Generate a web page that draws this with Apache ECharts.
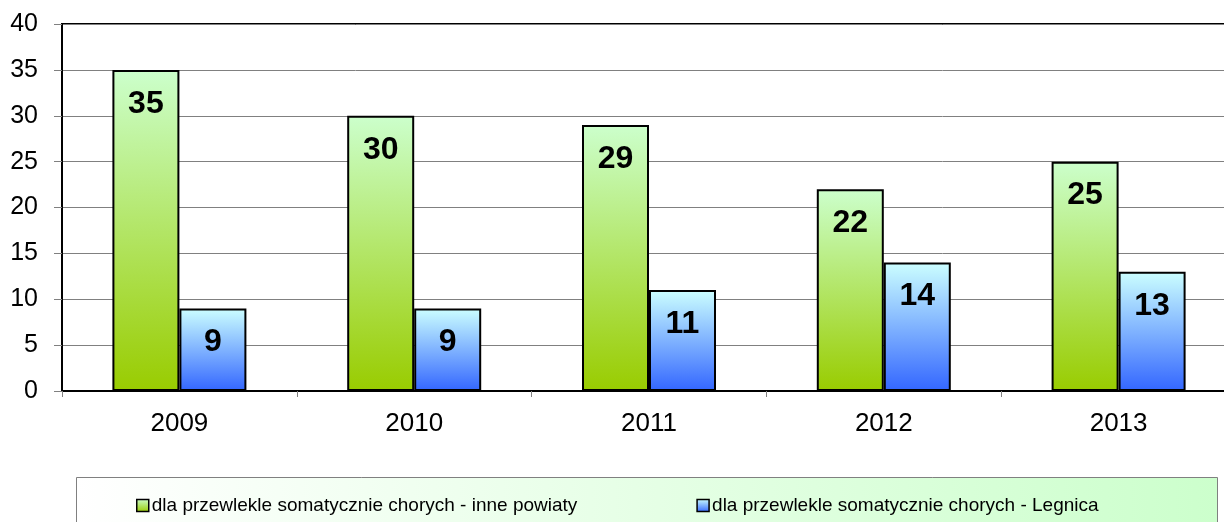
<!DOCTYPE html>
<html>
<head>
<meta charset="utf-8">
<script src="https://cdn.jsdelivr.net/npm/echarts@6/dist/echarts.min.js"></script>
<style>
html, body { margin: 0; padding: 0; background: #fff; overflow: hidden; }
/* wykres szerszy niż okno: prawa krawędź obszaru wykresu ucięta jak w oryginale */
#chart { width: 1236px; height: 522px; }
</style>
</head>
<body>
<div id="chart"></div>
<script>
// dane
var lata = ['2009', '2010', '2011', '2012', '2013'];
var innePowiaty = [35, 30, 29, 22, 25];
var legnica = [9, 9, 11, 14, 13];
var nazwy = ['dla przewlekle somatycznie chorych - inne powiaty', 'dla przewlekle somatycznie chorych - Legnica'];

var chart = echarts.init(document.getElementById('chart'));

var gradZielony = new echarts.graphic.LinearGradient(0, 0, 0, 1, [
	{ offset: 0, color: '#ccffcc' },
	{ offset: 1, color: '#99cc00' }
]);
var gradNiebieski = new echarts.graphic.LinearGradient(0, 0, 0, 1, [
	{ offset: 0, color: '#ccffff' },
	{ offset: 1, color: '#3366ff' }
]);

var etykieta = {
	show: true,
	position: 'insideTop',
	distance: 18,
	color: '#000',
	fontFamily: 'Liberation Sans, Arial, sans-serif',
	fontWeight: 'bold',
	fontSize: 32
};

var option = {
	animation: false,
	textStyle: { fontFamily: 'Liberation Sans, Arial, sans-serif' },
	grid: {
		left: 62,
		top: 24,
		right: 0,
		bottom: 131,
		show: true,
		borderColor: '#000',
		borderWidth: 2
	},
	graphic: [{
		type: 'rect',
		shape: { x: 76.5, y: 477.5, width: 1141, height: 60 },
		style: {
			fill: new echarts.graphic.LinearGradient(0, 0, 1, 0, [
				{ offset: 0, color: '#ffffff' },
				{ offset: 1, color: '#ccffcc' }
			]),
			stroke: '#808080',
			lineWidth: 1
		},
		z: 0
	}],
	legend: {
		data: nazwy,
		left: 131,
		top: 491,
		itemWidth: 12,
		itemHeight: 12,
		itemGap: 119,
		icon: 'rect',
		itemStyle: { borderColor: '#000', borderWidth: 1.5 },
		textStyle: { fontSize: 19, color: '#000', padding: [0, 0, 0, -2] },
		z: 10
	},
	xAxis: {
		type: 'category',
		data: lata,
		axisLine: { lineStyle: { color: '#000', width: 2 } },
		axisTick: { show: true, length: 6, lineStyle: { color: '#808080' } },
		axisLabel: { fontSize: 26, color: '#000', margin: 20 }
	},
	yAxis: {
		type: 'value',
		min: 0,
		max: 40,
		interval: 5,
		axisLine: { show: true, lineStyle: { color: '#000', width: 2 } },
		axisTick: { show: true, length: 8, lineStyle: { color: '#808080' } },
		axisLabel: { fontSize: 25, color: '#000', margin: 24 },
		splitLine: { lineStyle: { color: '#808080', width: 1 } }
	},
	series: [
		{
			name: nazwy[0],
			type: 'bar',
			data: innePowiaty,
			barWidth: 67,
			barGap: '0%',
			itemStyle: { color: gradZielony, borderColor: '#000', borderWidth: 2 },
			label: etykieta
		},
		{
			name: nazwy[1],
			type: 'bar',
			data: legnica,
			barWidth: 67,
			barGap: '0%',
			itemStyle: { color: gradNiebieski, borderColor: '#000', borderWidth: 2 },
			label: etykieta
		}
	]
};

chart.setOption(option);

window.onresize = function () {
	chart.resize();
};
</script>
</body>
</html>
